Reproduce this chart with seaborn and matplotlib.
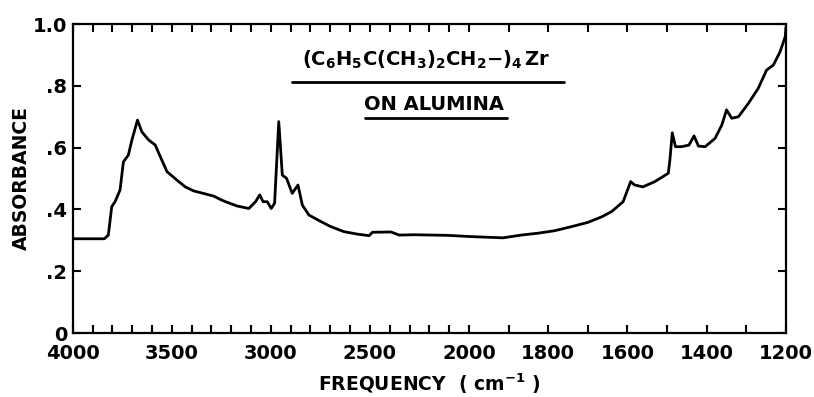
import numpy as np
import pandas as pd
import matplotlib
matplotlib.use("Agg")
import matplotlib.pyplot as plt
import seaborn as sns
from matplotlib.ticker import FixedLocator, FixedFormatter
from matplotlib.lines import Line2D

# ---- data ----
freq = [4000, 3840, 3820, 3803, 3786, 3761, 3744, 3719, 3701, 3673, 3651, 3617,
        3583, 3558, 3524, 3474, 3432, 3390, 3330, 3288, 3254, 3229, 3170, 3111,
        3077, 3056, 3039, 3018, 2998, 2981, 2960, 2942, 2921, 2892, 2863, 2841,
        2808, 2760, 2700, 2631, 2563, 2504, 2487, 2394, 2352, 2276, 2107, 1995,
        1914, 1868, 1826, 1784, 1742, 1700, 1665, 1640, 1611, 1592, 1582, 1561,
        1531, 1497, 1493, 1487, 1479, 1464, 1445, 1432, 1421, 1404, 1379, 1362,
        1350, 1337, 1320, 1295, 1270, 1249, 1232, 1215, 1202, 1200]
absorbance = [0.305, 0.305, 0.317, 0.409, 0.425, 0.463, 0.554, 0.576, 0.625, 0.689, 0.651, 0.625,
              0.608, 0.571, 0.522, 0.495, 0.473, 0.460, 0.450, 0.443, 0.432, 0.425, 0.411, 0.403,
              0.425, 0.447, 0.425, 0.425, 0.403, 0.420, 0.684, 0.511, 0.501, 0.452, 0.479, 0.414,
              0.382, 0.365, 0.345, 0.328, 0.320, 0.315, 0.326, 0.327, 0.317, 0.318, 0.316, 0.312,
              0.308, 0.317, 0.323, 0.331, 0.344, 0.358, 0.376, 0.393, 0.425, 0.490, 0.479, 0.473,
              0.490, 0.517, 0.560, 0.648, 0.603, 0.603, 0.608, 0.638, 0.605, 0.603, 0.630, 0.673,
              0.722, 0.695, 0.700, 0.743, 0.792, 0.851, 0.867, 0.910, 0.959, 0.990]

xtick_values = [4000, 3500, 3000, 2500, 2000, 1800, 1600, 1400, 1200]
xtick_labels = ["4000", "3500", "3000", "2500", "2000", "1800", "1600", "1400", "1200"]
ytick_values = [0, 0.2, 0.4, 0.6, 0.8, 1.0]
ytick_labels = ["0", ".2", ".4", ".6", ".8", "1.0"]
title_line1 = r"$\mathbf{(C_6H_5C(CH_3)_2CH_2{-})_4\,Zr}$"
title_line2 = "ON ALUMINA"
xlabel = r"FREQUENCY  ( cm$^{\mathbf{-1}}$ )"
ylabel = "ABSORBANCE"

df = pd.DataFrame({"freq": freq, "absorbance": absorbance})

sns.set_theme(style="white")
plt.rcParams["font.family"] = ["DejaVu Sans"]
plt.rcParams["mathtext.fontset"] = "dejavusans"
plt.rcParams["text.color"] = "black"
plt.rcParams["axes.labelcolor"] = "black"
plt.rcParams["xtick.color"] = "black"
plt.rcParams["ytick.color"] = "black"

fig = plt.figure(figsize=(8.14, 3.97), dpi=100)
ax = fig.add_axes([0.0893, 0.1612, 0.8763, 0.7783])

sns.lineplot(data=df, x="freq", y="absorbance", ax=ax, color="black", lw=2.0,
             estimator=None, sort=False)

# IR chart scale: below 2000 cm-1 the scale is doubled
def fwd(x):
    x = np.asarray(x, dtype=float)
    return np.where(x >= 2000, x, 2 * x - 2000)

def inv(v):
    v = np.asarray(v, dtype=float)
    return np.where(v >= 2000, v, (v + 2000) / 2)

ax.set_xscale("function", functions=(fwd, inv))
ax.set_xlim(4000, 1200)
ax.set_ylim(0, 1.0)

all_ticks = list(range(4000, 1199, -100))
minor = [t for t in all_ticks if t not in xtick_values]
ax.xaxis.set_major_locator(FixedLocator(xtick_values))
ax.xaxis.set_major_formatter(FixedFormatter(xtick_labels))
ax.xaxis.set_minor_locator(FixedLocator(minor))
ax.yaxis.set_major_locator(FixedLocator(ytick_values))
ax.yaxis.set_major_formatter(FixedFormatter(ytick_labels))

ax.tick_params(axis="both", which="both", direction="in", length=6, width=1.5,
               color="black", labelcolor="black", top=True, right=True, bottom=True, left=True)
ax.tick_params(axis="x", which="major", labelsize=14, pad=8)
ax.tick_params(axis="y", which="major", labelsize=14, pad=4)
for lab in ax.get_xticklabels() + ax.get_yticklabels():
    lab.set_fontweight("bold")

for s in ax.spines.values():
    s.set_visible(True)
    s.set_color("black")
    s.set_linewidth(1.6)

ax.set_xlabel(xlabel, fontsize=13.5, fontweight="bold", labelpad=6, color="black")
ax.set_ylabel(ylabel, fontsize=13.5, fontweight="bold", labelpad=1, color="black")

ax.text(0.496, 0.885, title_line1, transform=ax.transAxes, ha="center", va="center",
        fontsize=14, color="black")
ax.add_line(Line2D([0.307, 0.689], [0.812, 0.812], transform=ax.transAxes,
                   color="black", lw=2.0))
ax.text(0.507, 0.741, title_line2, transform=ax.transAxes, ha="center", va="center",
        fontsize=14, fontweight="bold", color="black")
ax.add_line(Line2D([0.410, 0.609], [0.696, 0.696], transform=ax.transAxes,
                   color="black", lw=2.0))

fig.savefig("out.png", dpi=100)
